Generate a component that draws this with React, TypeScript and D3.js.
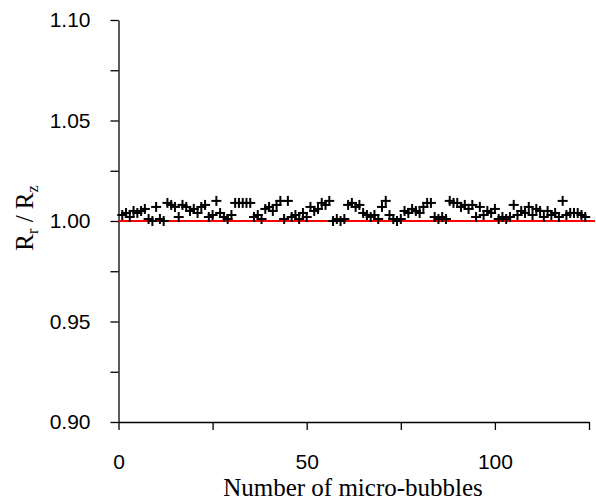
import React, { useRef, useEffect } from 'react';
import { select, scaleLinear, axisLeft, axisBottom } from 'd3';

// ratio R_r / R_z for each micro-bubble
const ratios: number[] = [
  1.003, 1.004, 1.002, 1.005, 1.004, 1.005, 1.006, 1.001, 1.000, 1.007,
  1.001, 1.000, 1.009, 1.008, 1.007, 1.002, 1.008, 1.007, 1.005, 1.006,
  1.004, 1.007, 1.008, 1.002, 1.003, 1.010, 1.004, 1.002, 1.001, 1.003,
  1.009, 1.009, 1.009, 1.009, 1.009, 1.002, 1.003, 1.001, 1.006, 1.007,
  1.005, 1.008, 1.010, 1.001, 1.010, 1.002, 1.003, 1.001, 1.004, 1.002,
  1.007, 1.005, 1.006, 1.009, 1.008, 1.010, 1.000, 1.001, 1.000, 1.001,
  1.008, 1.009, 1.007, 1.008, 1.004, 1.003, 1.002, 1.003, 1.001, 1.007,
  1.010, 1.003, 1.001, 1.000, 1.001, 1.005, 1.004, 1.006, 1.005, 1.004,
  1.007, 1.009, 1.009, 1.002, 1.001, 1.002, 1.001, 1.010, 1.009, 1.009,
  1.007, 1.008, 1.006, 1.008, 1.002, 1.007, 1.003, 1.005, 1.004, 1.006,
  1.001, 1.002, 1.001, 1.002, 1.008, 1.003, 1.005, 1.004, 1.007, 1.003,
  1.006, 1.005, 1.002, 1.005, 1.003, 1.004, 1.002, 1.010, 1.003, 1.004,
  1.004, 1.004, 1.003, 1.002,
];

const referenceValue = 1.0;

const xTicks = [0, 25, 50, 75, 100, 125];
const xLabelled = [0, 50, 100];
const yTicks = [0.9, 0.925, 0.95, 0.975, 1.0, 1.025, 1.05, 1.075, 1.1];
const yLabelled = [0.9, 0.95, 1.0, 1.05, 1.1];

const W = 596;
const H = 502;
const left = 118.5;
const right = 589;
const top = 20;
const bottom = 422;

const sans = '"Liberation Sans", Arial, sans-serif';
const serif = '"Liberation Serif", "Times New Roman", serif';

const App: React.FC = () => {
  const svgRef = useRef<SVGSVGElement>(null);

  useEffect(() => {
    const svg = select(svgRef.current);
    svg.selectAll('*').remove();

    const x = scaleLinear().domain([0, 125]).range([left, right]);
    const y = scaleLinear().domain([0.9, 1.1]).range([bottom, top]);

    const yAxis = axisLeft<number>(y)
      .tickValues(yTicks)
      .tickSize(8)
      .tickSizeOuter(0)
      .tickPadding(20)
      .tickFormat((d) =>
        yLabelled.some((v) => Math.abs(v - d) < 1e-9) ? d.toFixed(2) : ''
      );

    const xAxis = axisBottom<number>(x)
      .tickValues(xTicks)
      .tickSize(8)
      .tickSizeOuter(0)
      .tickPadding(24)
      .tickFormat((d) => (xLabelled.includes(d) ? String(d) : ''));

    const gy = svg.append('g').attr('transform', `translate(${left},0)`).call(yAxis);
    const gx = svg.append('g').attr('transform', `translate(0,${bottom})`).call(xAxis);

    [gx, gy].forEach((g) => {
      g.selectAll('path.domain').attr('stroke', '#000').attr('stroke-width', 1.3);
      g.selectAll('.tick line').attr('stroke', '#000').attr('stroke-width', 1.3);
      g.selectAll('.tick text')
        .attr('fill', '#000')
        .attr('font-family', sans)
        .attr('font-size', 21);
    });

    // red reference line at 1.00
    svg
      .append('line')
      .attr('x1', x(0))
      .attr('x2', W - 1)
      .attr('y1', y(referenceValue))
      .attr('y2', y(referenceValue))
      .attr('stroke', '#ff0000')
      .attr('stroke-width', 2);

    // plus markers
    const arm = 5;
    const marks = svg
      .append('g')
      .selectAll('g')
      .data(ratios)
      .join('g')
      .attr('transform', (d, i) => `translate(${x(i + 1)},${y(d)})`);
    marks
      .append('line')
      .attr('x1', -arm)
      .attr('x2', arm)
      .attr('stroke', '#000')
      .attr('stroke-width', 2);
    marks
      .append('line')
      .attr('y1', -arm)
      .attr('y2', arm)
      .attr('stroke', '#000')
      .attr('stroke-width', 2);

    // axis titles
    svg
      .append('text')
      .attr('x', 353)
      .attr('y', 496)
      .attr('text-anchor', 'middle')
      .attr('font-family', serif)
      .attr('font-size', 25)
      .attr('fill', '#000')
      .text('Number of micro-bubbles');

    const yTitle = svg
      .append('text')
      .attr('transform', 'translate(33,218) rotate(-90)')
      .attr('text-anchor', 'middle')
      .attr('font-family', serif)
      .attr('font-size', 25)
      .attr('fill', '#000');
    yTitle.append('tspan').text('R');
    yTitle.append('tspan').attr('font-size', 16).attr('dy', 5).text('r');
    yTitle.append('tspan').attr('dy', -5).text(' / R');
    yTitle.append('tspan').attr('font-size', 16).attr('dy', 5).text('z');
  }, []);

  return (
    <svg
      ref={svgRef}
      width={W}
      height={H}
      style={{ position: 'absolute', left: 0, top: 0, background: '#fff' }}
    />
  );
};

export default App;
